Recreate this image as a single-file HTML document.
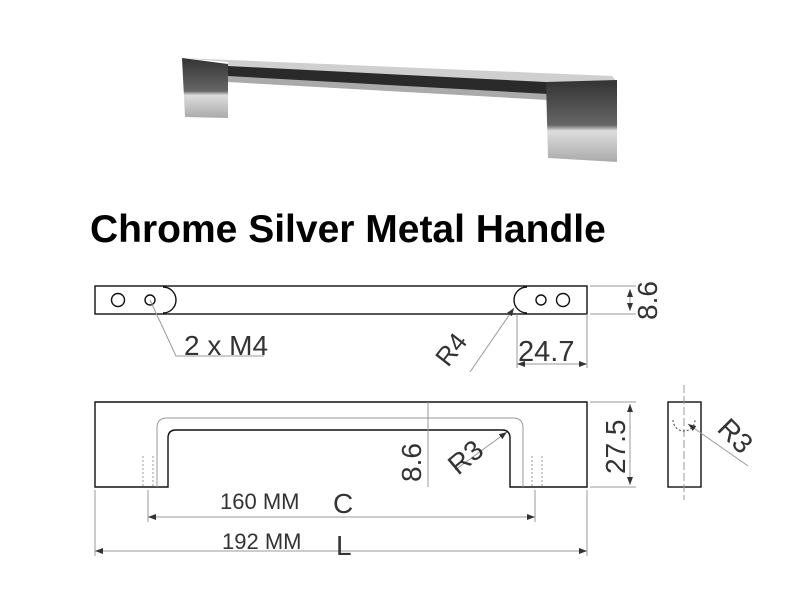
<!DOCTYPE html>
<html><head><style>
body{margin:0;background:#fff;}
svg{display:block}
</style></head><body>
<svg width="800" height="600" viewBox="0 0 800 600" xmlns="http://www.w3.org/2000/svg">
<defs>
<linearGradient id="bar" x1="0" y1="0" x2="0" y2="1">
<stop offset="0" stop-color="#e8e8e8"/><stop offset="0.3" stop-color="#555"/><stop offset="0.6" stop-color="#222"/><stop offset="1" stop-color="#bbb"/>
</linearGradient>
<linearGradient id="leg" x1="0" y1="0" x2="0" y2="1">
<stop offset="0" stop-color="#333"/><stop offset="0.55" stop-color="#666"/><stop offset="0.62" stop-color="#ddd"/><stop offset="1" stop-color="#aaa"/>
</linearGradient>
<marker id="ar" markerWidth="8" markerHeight="6" refX="8" refY="3" orient="auto-start-reverse" markerUnits="userSpaceOnUse"><path d="M0,0 L8,3 L0,6 Z" fill="#333"/></marker>
</defs>
<!-- photo -->
<polygon points="182,58 612,76 617,82 548,82 228,70 228,62" fill="#cfcfcf"/>
<polygon points="228,66 546,82 548,96 228,78" fill="#2a2a2a"/>
<polygon points="228,76 548,94 548,100 228,82" fill="#aaa"/>
<polygon points="182,58 228,64 228,118 185,117" fill="url(#leg)"/>
<polygon points="546,82 617,80 617,162 548,158" fill="url(#leg)"/>
<text x="90" y="242" font-family="Liberation Sans, sans-serif" font-weight="bold" font-size="39">Chrome Silver Metal Handle</text>
<g fill="none" stroke="#111" stroke-width="1.4">
<rect x="95" y="286" width="492" height="28"/>
<circle cx="118" cy="300" r="6.5"/><circle cx="150" cy="300" r="5"/>
<path d="M163,287 A13,13 0 0 1 163,313"/>
<path d="M527,287 A13,13 0 0 0 527,313"/>
<circle cx="541" cy="300" r="5"/><circle cx="563" cy="300" r="6.5"/>
<path d="M95,402 H587 V487 H510 V438 Q510,430 502,430 H176 Q168,430 168,438 V487 H95 Z"/>
<rect x="668" y="402" width="33" height="85"/>
</g>
<g fill="none" stroke="#999" stroke-width="1">
<path d="M157,487 V428 Q157,418 167,418 H513 Q523,418 523,428 V487"/>
<path d="M150,300 L176,356 H264"/>
<path d="M470,372 L514,308" marker-end="url(#ar)"/>
<path d="M590,286 H636 M590,314 H636 M517,314 V368 M587,314 V368"/>
<path d="M517,364 H587" marker-start="url(#ar)" marker-end="url(#ar)"/>
<path d="M630,289 V311" marker-start="url(#ar)" marker-end="url(#ar)"/>
<path d="M428,402 V487 M590,402 H636 M590,487 H636"/>
<path d="M630,404 V485" marker-start="url(#ar)" marker-end="url(#ar)"/>
<path d="M455,470 L507,432" marker-end="url(#ar)"/>
<path d="M684,385 V500" stroke-dasharray="8,3"/>
<path d="M748,466 L688,424" marker-end="url(#ar)"/>
<path d="M673,420 A11,11 0 0 0 695,420" stroke-dasharray="2,2" stroke="#444"/>
<path d="M148,490 V522 M535,490 V522 M95,490 V556 M587,490 V556"/>
<path d="M148,517 H535" marker-start="url(#ar)" marker-end="url(#ar)"/>
<path d="M95,551 H587" marker-start="url(#ar)" marker-end="url(#ar)"/>
<path d="M143,456 V487 M153,456 V487 M532,456 V487 M542,456 V487" stroke-dasharray="2,2"/>
</g>
<g fill="#333" font-family="Liberation Sans, sans-serif">
<text x="184" y="355" font-size="28" font-weight="300">2 x M4</text>
<text x="518" y="361" font-size="29">24.7</text>
<text transform="translate(657,320) rotate(-90)" font-size="28">8.6</text>
<text transform="translate(448,368) rotate(-52)" font-size="26">R4</text>
<text transform="translate(421,482) rotate(-90)" font-size="28">8.6</text>
<text transform="translate(458,476) rotate(-40)" font-size="28">R3</text>
<text transform="translate(625,474) rotate(-90)" font-size="28">27.5</text>
<text transform="translate(716,430) rotate(45)" font-size="28">R3</text>
<text x="220" y="509" font-size="22">160 MM</text>
<text x="333" y="513" font-size="28" font-weight="300">C</text>
<text x="222" y="549" font-size="22">192 MM</text>
<text x="336" y="555" font-size="28" font-weight="300">L</text>
</g>
</svg>
</body></html>
